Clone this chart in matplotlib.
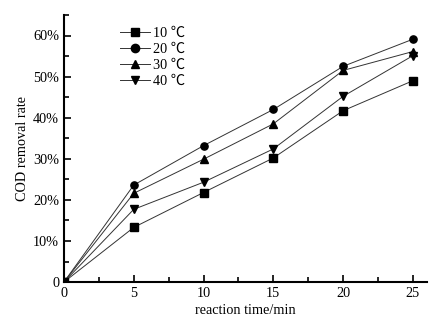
import matplotlib
matplotlib.use("Agg")
import matplotlib.pyplot as plt
from matplotlib.ticker import FuncFormatter, MultipleLocator

plt.rcParams['font.family'] = ['Liberation Serif', 'Noto Sans CJK SC', 'DejaVu Sans']
plt.rcParams['font.size'] = 10.3

time = [0, 5, 10, 15, 20, 25]
labels = ['10 ℃', '20 ℃', '30 ℃', '40 ℃']
r10 = [0, 13.3, 21.8, 30.2, 41.7, 49.0]
r20 = [0, 23.6, 33.2, 42.0, 52.5, 59.1]
r30 = [0, 21.6, 29.9, 38.5, 51.5, 56.1]
r40 = [0, 17.7, 24.3, 32.4, 45.2, 55.1]
series = [r10, r20, r30, r40]
markers = ['s', 'o', '^', 'v']

fig = plt.figure(figsize=(4.47, 3.25), dpi=100)
ax = fig.add_axes([0.143, 0.132, 0.812, 0.822])

for vals, lab, m in zip(series, labels, markers):
    ax.plot(time, vals, color='#333333', lw=0.7, marker=m, markersize=5.2,
            markerfacecolor='black', markeredgecolor='black', label=lab)

ax.set_xlim(0, 26)
ax.set_ylim(0, 65)
ax.xaxis.set_major_locator(MultipleLocator(5))
ax.xaxis.set_minor_locator(MultipleLocator(2.5))
ax.yaxis.set_major_locator(MultipleLocator(10))
ax.yaxis.set_minor_locator(MultipleLocator(5))
ax.yaxis.set_major_formatter(FuncFormatter(lambda v, p: '0' if v == 0 else f'{int(round(v))}%'))
ax.tick_params(which='both', direction='in', width=1.2, colors='black')
ax.tick_params(which='major', length=5)
ax.tick_params(which='minor', length=3.5)
for s in ['top', 'right']:
    ax.spines[s].set_visible(False)
for s in ['left', 'bottom']:
    ax.spines[s].set_linewidth(1.5)

ax.set_xlabel('reaction time/min', labelpad=3)
ax.set_ylabel('COD removal rate', labelpad=3)

ax.legend(loc='upper left', bbox_to_anchor=(0.14, 0.978), frameon=False,
          handlelength=2.1, handletextpad=0.15, labelspacing=0.22, borderaxespad=0,
          markerscale=1.15)

fig.savefig('out.png', dpi=100)
